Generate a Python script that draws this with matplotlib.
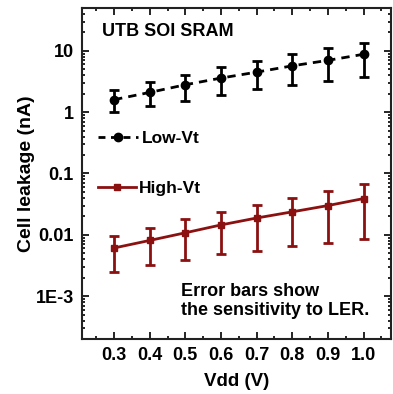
import matplotlib
matplotlib.use("Agg")
import matplotlib.pyplot as plt
from matplotlib.lines import Line2D
from matplotlib.ticker import LogLocator, FixedLocator, MultipleLocator

plt.rcParams['font.family'] = ['Liberation Sans', 'DejaVu Sans']
plt.rcParams['font.weight'] = 'bold'

vdd = [0.3, 0.4, 0.5, 0.6, 0.7, 0.8, 0.9, 1.0]

# Low-Vt cell leakage (nA) with error bar extents
low_mid = [1.6, 2.1, 2.8, 3.6, 4.5, 5.7, 7.0, 8.8]
low_hi = [2.3, 3.1, 4.1, 5.4, 6.9, 8.8, 11.0, 13.5]
low_lo = [1.0, 1.25, 1.55, 1.9, 2.35, 2.75, 3.2, 3.8]

# High-Vt cell leakage (nA)
high_mid = [0.0061, 0.0081, 0.0108, 0.0145, 0.0188, 0.0237, 0.030, 0.039]
high_hi = [0.0096, 0.013, 0.018, 0.0235, 0.031, 0.040, 0.052, 0.068]
high_lo = [0.0025, 0.0032, 0.0039, 0.0048, 0.0055, 0.0066, 0.0074, 0.0085]

red = '#8B1111'

fig = plt.figure(figsize=(3.93, 3.94), dpi=100)
ax = fig.add_axes([82/393, 1 - 339/394, 309/393, 331/394])

low_err = [[m - l for m, l in zip(low_mid, low_lo)], [h - m for m, h in zip(low_mid, low_hi)]]
high_err = [[m - l for m, l in zip(high_mid, high_lo)], [h - m for m, h in zip(high_mid, high_hi)]]

ax.errorbar(vdd, low_mid, yerr=low_err, color='black', ls='--', lw=2, marker='o', ms=6,
            capsize=3.5, capthick=2, elinewidth=2, dashes=(3, 2.2))
ax.errorbar(vdd, high_mid, yerr=high_err, color=red, ls='-', lw=2, marker='s', ms=5,
            capsize=3.5, capthick=2, elinewidth=2)

ax.set_yscale('log')
ax.set_xlim(0.21, 1.077)
ax.set_ylim(2e-4, 50)
ax.xaxis.set_major_locator(FixedLocator(vdd))
ax.xaxis.set_minor_locator(MultipleLocator(0.05))
ax.set_xticklabels(['%.1f' % v for v in vdd])
ax.yaxis.set_major_locator(FixedLocator([1e-3, 1e-2, 1e-1, 1, 10]))
ax.set_yticklabels(['1E-3', '0.01', '0.1', '1', '10'])
ax.yaxis.set_minor_locator(LogLocator(base=10, subs=range(2, 10)))

ax.tick_params(which='both', direction='in', top=True, right=True, width=1.2,
               labelsize=13, pad=6)
ax.tick_params(which='major', length=5)
ax.tick_params(which='minor', length=2.5)
for s in ax.spines.values():
    s.set_linewidth(1.5)
    s.set_color('#222222')

ax.set_xlabel('Vdd (V)', fontsize=13.5, fontweight='bold', labelpad=6)
ax.set_ylabel('Cell leakage (nA)', fontsize=14, fontweight='bold', labelpad=0)

ax.text(0.065, 0.93, 'UTB SOI SRAM', transform=ax.transAxes, fontsize=13,
        fontweight='bold', va='center')
ax.text(0.32, 0.115, 'Error bars show\nthe sensitivity to LER.', transform=ax.transAxes,
        fontsize=13, fontweight='bold', va='center', ha='left', linespacing=1.2)

h_low = Line2D([], [], color='black', ls='--', lw=2, marker='o', ms=6, dashes=(2.5, 2))
h_high = Line2D([], [], color=red, ls='-', lw=2, marker='s', ms=5)
leg1 = ax.legend([h_low], ['Low-Vt'], loc='center left', bbox_to_anchor=(0.03, 0.606),
                 frameon=False, fontsize=12.5, handlelength=2.3, handletextpad=0.2,
                 borderaxespad=0)
ax.add_artist(leg1)
ax.legend([h_high], ['High-Vt'], loc='center left', bbox_to_anchor=(0.03, 0.456),
          frameon=False, fontsize=12.5, handlelength=2.2, handletextpad=0.15,
          borderaxespad=0)

fig.savefig('out.png', dpi=100)
